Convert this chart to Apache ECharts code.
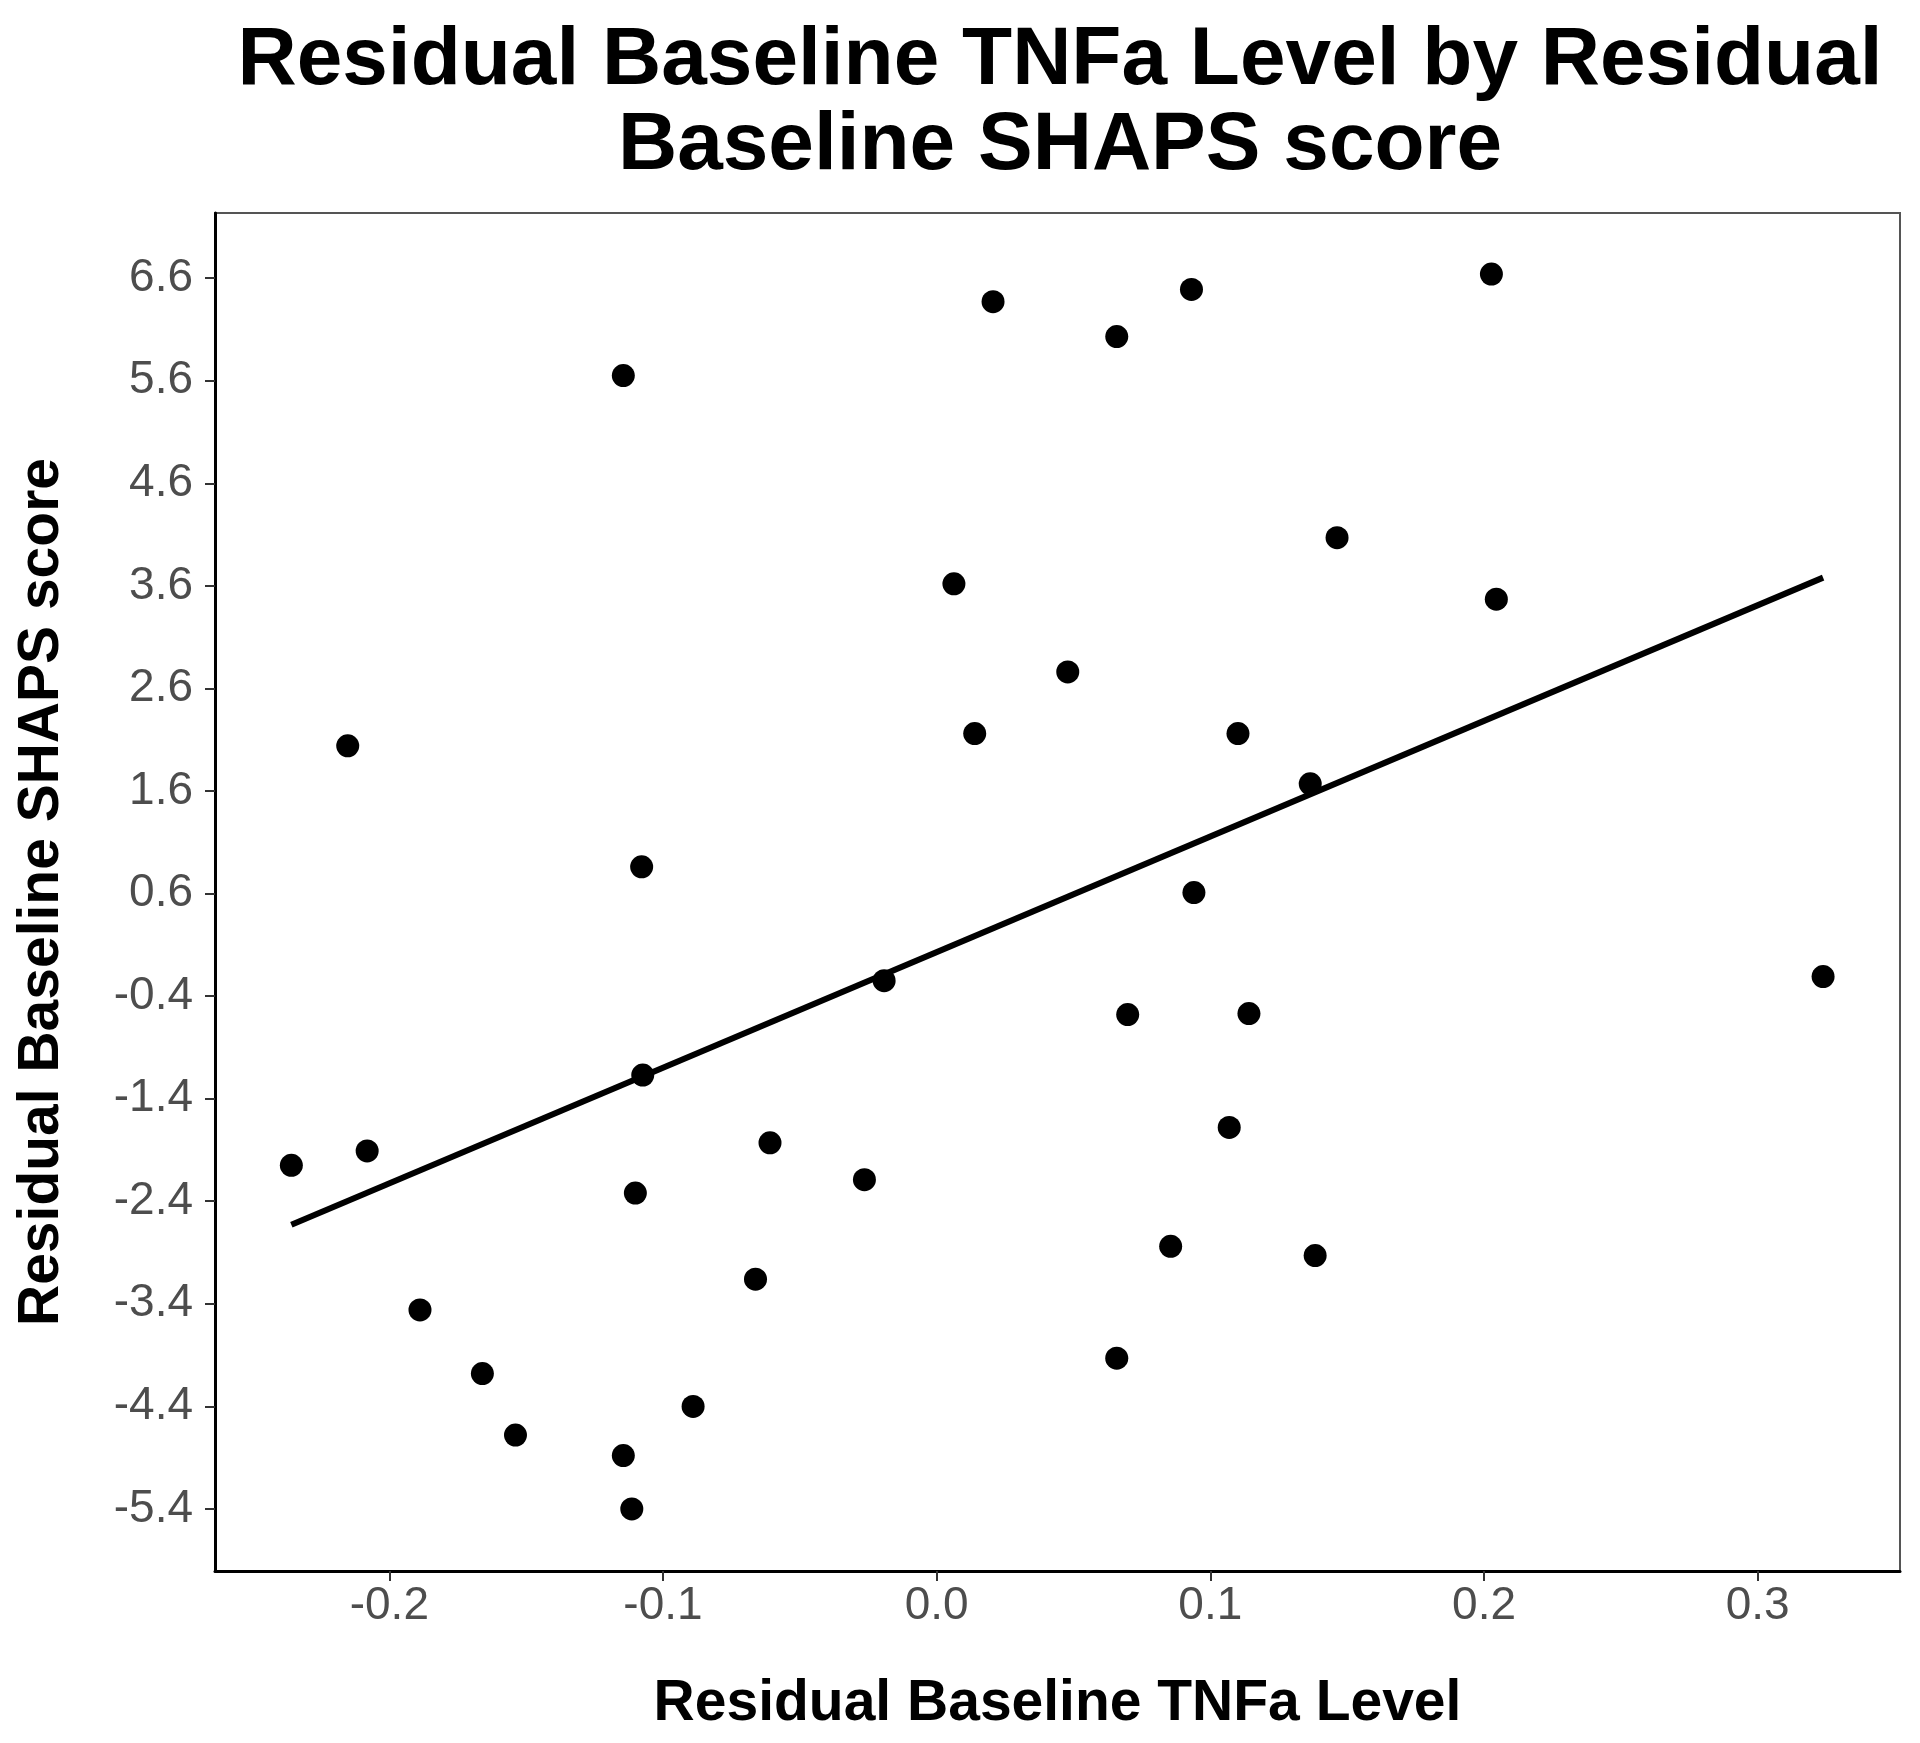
<!DOCTYPE html>
<html>
<head>
<meta charset="utf-8">
<script src="https://cdn.jsdelivr.net/npm/echarts@6/dist/echarts.min.js"></script>
<style>
html,body{margin:0;padding:0;background:#fff;}
#chart{width:1920px;height:1743px;}
</style>
</head>
<body>
<div id="chart"></div>
<script>
// ---- data ----
var titleLines = ['Residual Baseline TNFa Level by Residual', 'Baseline SHAPS score'];
var xAxisTitle = 'Residual Baseline TNFa Level';
var yAxisTitle = 'Residual Baseline SHAPS score';

var xTicks = [-0.2, -0.1, 0.0, 0.1, 0.2, 0.3];
var yTicks = [-5.4, -4.4, -3.4, -2.4, -1.4, -0.4, 0.6, 1.6, 2.6, 3.6, 4.6, 5.6, 6.6];

var tnfa = [-0.2358, -0.2152, -0.2081, -0.1888, -0.1660, -0.1539, -0.1145, -0.1145, -0.1114, -0.1101,
            -0.1078, -0.1074, -0.0890, -0.0662, -0.0609, -0.0264, -0.0192, 0.0063, 0.0139, 0.0206,
            0.0479, 0.0658, 0.0658, 0.0698, 0.0855, 0.0931, 0.0940, 0.1069, 0.1101, 0.1141,
            0.1365, 0.1383, 0.1463, 0.2027, 0.2045, 0.3239];
var shaps = [-2.05, 2.04, -1.91, -3.46, -4.08, -4.68, 5.65, -4.88, -5.40, -2.32,
             0.86, -1.17, -4.40, -3.16, -1.83, -2.19, -0.25, 3.62, 2.16, 6.37,
             2.76, 6.03, -3.93, -0.58, -2.84, 6.49, 0.61, -1.68, 2.16, -0.57,
             1.67, -2.93, 4.07, 6.64, 3.47, -0.21];

var fitX = [-0.2358, 0.3239];
var fitY = [-2.63, 3.68];

// ---- build ----
var points = tnfa.map(function (x, i) { return [x, shaps[i]]; });
var fitLine = fitX.map(function (x, i) { return [x, fitY[i]]; });

var FONT = '"Liberation Sans", Arial, Helvetica, sans-serif';
var chart = echarts.init(document.getElementById('chart'), null, {renderer: 'canvas'});

chart.setOption({
  animation: false,
  backgroundColor: '#ffffff',
  graphic: [
    {type: 'text', x: 1060, y: 61, z: 10,
     style: {text: titleLines[0], font: 'bold 82px ' + FONT, fill: '#000', align: 'center', verticalAlign: 'middle'}},
    {type: 'text', x: 1060, y: 146, z: 10,
     style: {text: titleLines[1], font: 'bold 82px ' + FONT, fill: '#000', align: 'center', verticalAlign: 'middle'}}
  ],
  grid: {
    left: 215, right: 20, top: 213, bottom: 172,
    show: true, borderColor: '#555555', borderWidth: 2, backgroundColor: '#ffffff'
  },
  xAxis: {
    type: 'value',
    min: -0.2637, max: 0.352,
    name: xAxisTitle, nameLocation: 'middle', nameGap: 105,
    nameTextStyle: {fontFamily: FONT, fontWeight: 'bold', fontSize: 57, color: '#000'},
    axisLine: {show: true, onZero: false, lineStyle: {color: '#000', width: 3}},
    axisTick: {show: true, length: 10, lineStyle: {color: '#333', width: 2}, customValues: xTicks},
    axisLabel: {show: true, margin: 12, fontFamily: FONT, fontSize: 46, color: '#4d4d4d',
                customValues: xTicks, formatter: function (v) { return Number(v).toFixed(1); }},
    splitLine: {show: false}
  },
  yAxis: {
    type: 'value',
    min: -6.005, max: 7.235,
    name: yAxisTitle, nameLocation: 'middle', nameGap: 144,
    nameTextStyle: {fontFamily: FONT, fontWeight: 'bold', fontSize: 57, color: '#000'},
    axisLine: {show: true, onZero: false, lineStyle: {color: '#000', width: 3}},
    axisTick: {show: true, length: 10, lineStyle: {color: '#333', width: 2}, customValues: yTicks},
    axisLabel: {show: true, margin: 22, fontFamily: FONT, fontSize: 46, color: '#4d4d4d',
                customValues: yTicks, formatter: function (v) { return Number(v).toFixed(1); }},
    splitLine: {show: false}
  },
  series: [
    {
      type: 'scatter',
      data: points,
      symbol: 'circle',
      symbolSize: 23,
      itemStyle: {color: '#000', opacity: 1},
      z: 3
    },
    {
      type: 'line',
      data: fitLine,
      symbol: 'none',
      lineStyle: {color: '#000', width: 6},
      z: 4
    }
  ]
});
</script>
</body>
</html>
